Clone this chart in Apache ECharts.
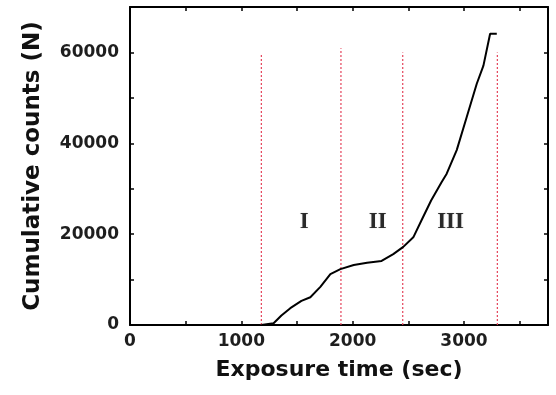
<!DOCTYPE html>
<html>
<head>
<meta charset="utf-8">
<script src="https://cdn.jsdelivr.net/npm/echarts@6/dist/echarts.min.js"></script>
<style>
html,body{margin:0;padding:0;background:#fff;}
#chart{width:556px;height:395px;}
</style>
</head>
<body>
<div id="chart"></div>
<script>
// Curve data (exposure time in sec, cumulative counts)
var timeSec = [1180, 1290, 1360, 1440, 1540, 1620, 1710, 1800, 1890, 2010, 2130, 2260, 2365, 2455, 2545, 2620, 2705, 2800, 2845, 2935, 3025, 3115, 3175, 3235, 3295];
var counts  = [0, 400, 2100, 3700, 5300, 6100, 8400, 11200, 12300, 13200, 13700, 14100, 15600, 17200, 19300, 23100, 27400, 31500, 33300, 38500, 45800, 53100, 57100, 64100, 64100];

// Vertical dotted divider lines
var dividerX   = [1180, 1895, 2450, 3300];
var dividerTop = [59800, 60900, 60000, 60000];

// Region labels
var regionNames = ['I', 'II', 'III'];
var regionX = [1565, 2225, 2880];
var regionY = [22600, 22600, 22600];

// Axis ticks
var xTickLabels = [0, 1000, 2000, 3000];
var yTickLabels = [0, 20000, 40000, 60000];

var curve = timeSec.map(function (t, i) { return [t, counts[i]]; });

var series = [];
dividerX.forEach(function (x, i) {
  series.push({
    type: 'line',
    data: [[x, 0], [x, dividerTop[i]]],
    showSymbol: false,
    silent: true,
    lineStyle: { color: '#e4435a', width: 1.2, type: [2, 2] },
    z: 2
  });
});
series.push({
  type: 'line',
  data: curve,
  showSymbol: false,
  lineStyle: { color: '#000', width: 2 },
  z: 3
});
series.push({
  type: 'scatter',
  data: regionNames.map(function (n, i) { return { name: n, value: [regionX[i], regionY[i]] }; }),
  symbolSize: 1,
  itemStyle: { color: 'rgba(0,0,0,0)' },
  label: {
    show: true,
    position: 'inside',
    formatter: function (p) { return p.name; },
    fontFamily: 'Liberation Serif',
    fontWeight: 'bold',
    fontSize: 23,
    color: '#000',
    textShadowColor: 'rgba(0,0,0,0.25)',
    textShadowBlur: 1.5
  },
  z: 4
});

var tickLabelStyle = { fontFamily: 'DejaVu Sans', fontWeight: 'bold', fontSize: 17, color: '#1e1e1e' };
var nameStyle = { fontFamily: 'DejaVu Sans', fontWeight: 'bold', fontSize: 22, color: '#111' };
function lineSt() { return { show: true, onZero: false, lineStyle: { color: '#000', width: 2 } }; }
function tickSt() { return { show: true, inside: true, length: 4, lineStyle: { color: '#000', width: 1.5 } }; }

var chart = echarts.init(document.getElementById('chart'), null, { renderer: 'canvas' });
chart.setOption({
  animation: false,
  backgroundColor: '#fff',
  grid: { left: 130, right: 8, top: 7, bottom: 70 },
  xAxis: [{
    type: 'value', min: 0, max: 3755, interval: 500, position: 'bottom',
    axisLine: lineSt(), axisTick: tickSt(), splitLine: { show: false },
    axisLabel: Object.assign({
      margin: 8, showMaxLabel: false,
      formatter: function (v) { return xTickLabels.indexOf(v) >= 0 ? String(v) : ''; }
    }, tickLabelStyle),
    name: 'Exposure time (sec)', nameLocation: 'middle', nameGap: 34,
    nameTextStyle: nameStyle
  }, {
    type: 'value', min: 0, max: 3755, interval: 500, position: 'top',
    axisLine: lineSt(), axisTick: tickSt(), splitLine: { show: false },
    axisLabel: { show: false }
  }],
  yAxis: [{
    type: 'value', min: 0, max: 70000, interval: 10000, position: 'left',
    axisLine: lineSt(), axisTick: tickSt(), splitLine: { show: false },
    axisLabel: Object.assign({
      margin: 11, showMaxLabel: false,
      formatter: function (v) { return yTickLabels.indexOf(v) >= 0 ? String(v) : ''; }
    }, tickLabelStyle),
    name: 'Cumulative counts (N)', nameLocation: 'middle', nameGap: 85,
    nameTextStyle: Object.assign({}, nameStyle, { fontSize: 23 })
  }, {
    type: 'value', min: 0, max: 70000, interval: 10000, position: 'right',
    axisLine: lineSt(), axisTick: tickSt(), splitLine: { show: false },
    axisLabel: { show: false }
  }],
  series: series
});
</script>
</body>
</html>
